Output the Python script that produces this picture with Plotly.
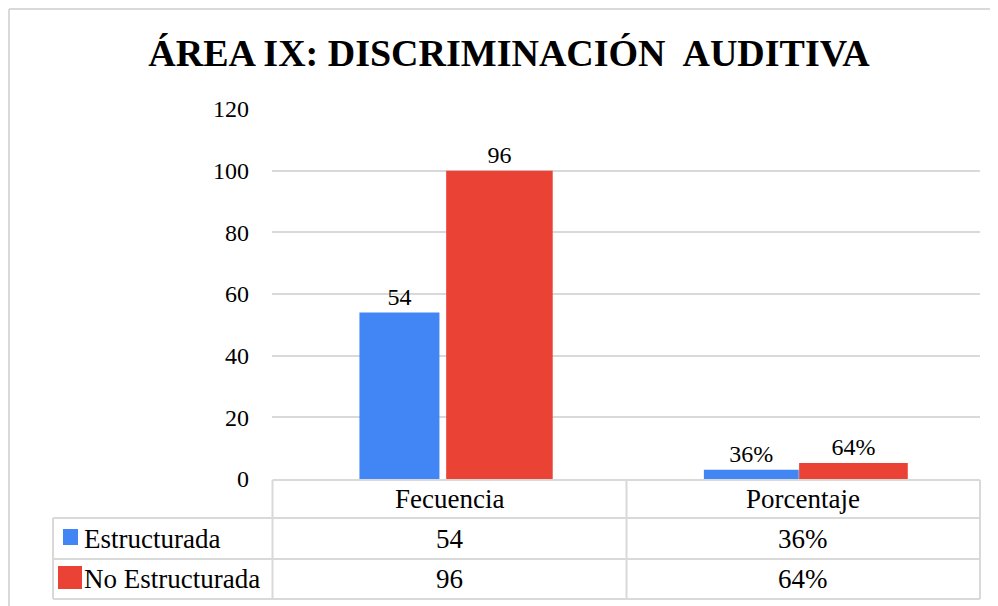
"""Área IX: Discriminación auditiva - bar chart with Excel-style data table."""

import plotly.graph_objects as go

# ── data ─────────────────────────────────────────────
categories = ["Fecuencia", "Porcentaje"]
series_names = ["Estructurada", "No Estructurada"]

# bar heights as drawn in the picture (axis units)
estructurada_bars = [54, 3]
no_estructurada_bars = [100, 5.2]

# labels shown above the bars and in the table
estructurada_labels = ["54", "36%"]
no_estructurada_labels = ["96", "64%"]

y_ticks = [0, 20, 40, 60, 80, 100, 120]

# ── style ────────────────────────────────────────────
BLUE = "#4285F4"
RED = "#EA4335"
GRID = "#D9D9D9"
FONT = "'Times New Roman', 'Liberation Serif', 'DejaVu Serif', serif"

# the page body adds an 8px margin, so the figure is a bit smaller
OFF = 8
W, H = 998 - OFF, 606 - OFF
# plot area in screen pixels
PL, PR, PT, PB = 272, 980, 109, 479
L, R, T, B = PL - OFF, W - (PR - OFF), PT - OFF, H - (PB - OFF)

# per-bar offset / width (category units), bars are not uniform in the source
blue_offset = [-0.253, -0.280]
blue_width = [0.226, 0.268]
red_offset = [-0.008, -0.011]
red_width = [0.301, 0.307]


def px(x):
    """screen x -> paper x"""
    return (x - PL) / (PR - PL)


def py(y):
    """screen y -> paper y"""
    return (PB - y) / (PB - PT)


fig = go.Figure()

fig.add_trace(go.Bar(
    x=categories, y=estructurada_bars, name=series_names[0],
    offset=blue_offset, width=blue_width,
    marker=dict(color=BLUE, line=dict(width=0)),
    text=estructurada_labels, textposition="outside",
    textfont=dict(family=FONT, size=24, color="#000"),
    cliponaxis=False, hoverinfo="skip",
))
fig.add_trace(go.Bar(
    x=categories, y=no_estructurada_bars, name=series_names[1],
    offset=red_offset, width=red_width,
    marker=dict(color=RED, line=dict(width=0)),
    text=no_estructurada_labels, textposition="outside",
    textfont=dict(family=FONT, size=24, color="#000"),
    cliponaxis=False, hoverinfo="skip",
))

# ── data table under the plot ───────────────────────
x_left, x_c0, x_c1, x_right = 53, 272.5, 626.5, 980
y_top, y_r0, y_r1, y_bot = 480, 518, 559, 599

line = dict(color=GRID, width=2)
shapes = [
    # horizontal lines
    dict(type="line", x0=px(x_c0), x1=px(x_right), y0=py(y_top), y1=py(y_top)),
    dict(type="line", x0=px(x_left), x1=px(x_right), y0=py(y_r0), y1=py(y_r0)),
    dict(type="line", x0=px(x_left), x1=px(x_right), y0=py(y_r1), y1=py(y_r1)),
    dict(type="line", x0=px(x_left), x1=px(x_right), y0=py(y_bot), y1=py(y_bot)),
    # vertical lines
    dict(type="line", x0=px(x_left), x1=px(x_left), y0=py(y_r0), y1=py(y_bot)),
    dict(type="line", x0=px(x_c0), x1=px(x_c0), y0=py(y_top), y1=py(y_bot)),
    dict(type="line", x0=px(x_c1), x1=px(x_c1), y0=py(y_top), y1=py(y_bot)),
    dict(type="line", x0=px(x_right), x1=px(x_right), y0=py(y_top), y1=py(y_bot)),
]
for s in shapes:
    s.update(xref="paper", yref="paper", line=line, layer="above")

# legend keys inside the table
shapes.append(dict(type="rect", xref="paper", yref="paper",
                   x0=px(63), x1=px(78), y0=py(545), y1=py(529),
                   fillcolor=BLUE, line=dict(width=0)))
shapes.append(dict(type="rect", xref="paper", yref="paper",
                   x0=px(58), x1=px(82), y0=py(589), y1=py(566),
                   fillcolor=RED, line=dict(width=0)))

# outer chart border (top + left)
border = dict(color=GRID, width=2)
shapes.append(dict(type="line", xref="paper", yref="paper",
                   x0=px(OFF + 1), x1=px(998), y0=py(OFF + 1), y1=py(OFF + 1), line=border))
shapes.append(dict(type="line", xref="paper", yref="paper",
                   x0=px(OFF + 1), x1=px(OFF + 1), y0=py(OFF + 1), y1=py(606), line=border))

annotations = []
col_centers = [(x_c0 + x_c1) / 2, (x_c1 + x_right) / 2]
tfont = dict(family=FONT, size=27, color="#000")

for cx, cat in zip(col_centers, categories):
    annotations.append(dict(x=px(cx), y=py((y_top + y_r0) / 2), text=cat,
                            xanchor="center", showarrow=False, font=tfont))

rows = [(series_names[0], estructurada_labels, (y_r0 + y_r1) / 2),
        (series_names[1], no_estructurada_labels, (y_r1 + y_bot) / 2)]
for name, labels, cy in rows:
    annotations.append(dict(x=px(82), y=py(cy), text=name, xanchor="left",
                            showarrow=False, font=tfont))
    for cx, lab in zip(col_centers, labels):
        annotations.append(dict(x=px(cx), y=py(cy), text=lab, xanchor="center",
                                showarrow=False, font=tfont))

for a in annotations:
    a.update(xref="paper", yref="paper", yanchor="middle")

fig.update_layout(
    width=W, height=H,
    margin=dict(l=L, r=R, t=T, b=B),
    paper_bgcolor="white", plot_bgcolor="white",
    showlegend=False,
    barmode="overlay",
    title=dict(
        text="ÁREA IX: DISCRIMINACIÓN  AUDITIVA",
        font=dict(family=FONT, size=38, color="#000", weight="bold"),
        x=(509 - OFF) / W, xanchor="center",
        y=1 - (53 - OFF) / H, yanchor="middle", yref="container",
    ),
    xaxis=dict(range=[-0.5, 1.5], showticklabels=False, showgrid=False,
               zeroline=False, showline=False),
    yaxis=dict(range=[0, 120], tickvals=y_ticks, showgrid=True,
               gridcolor=GRID, gridwidth=2, zeroline=False, showline=False,
               ticklabelstandoff=22,
               tickfont=dict(family=FONT, size=24, color="#000")),
    shapes=shapes,
    annotations=annotations,
)

fig.write_html("out.html")
